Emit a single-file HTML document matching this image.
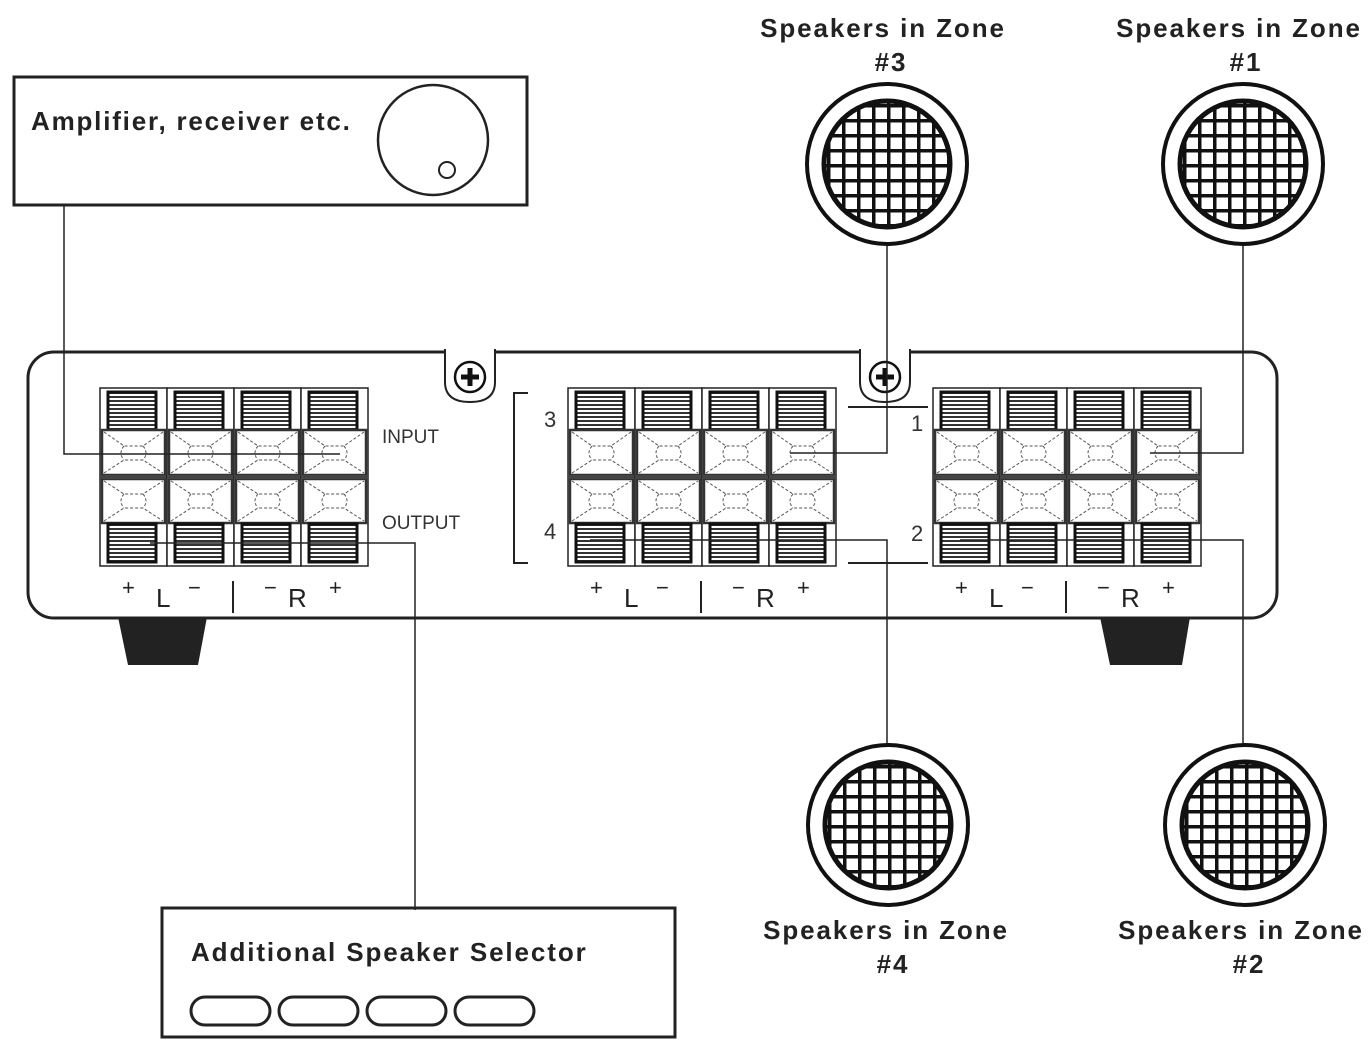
<!DOCTYPE html>
<html><head><style>body{margin:0;background:#fff}svg{display:block}text{font-family:"Liberation Sans",Arial,sans-serif}</style></head><body>
<svg width="1372" height="1056" viewBox="0 0 1372 1056" xmlns="http://www.w3.org/2000/svg">
<defs>
<pattern id="grid" width="15" height="15" patternUnits="userSpaceOnUse" x="0" y="0">
<rect width="15" height="15" fill="#fff"/><rect width="3.5" height="15" fill="#111"/><rect width="15" height="3.5" fill="#111"/></pattern>
<g id="spk">
<circle r="80" fill="#fff" stroke="#111" stroke-width="4"/>
<circle r="63" fill="url(#grid)" stroke="#111" stroke-width="5"/>
</g>
<pattern id="str" width="4" height="4" patternUnits="userSpaceOnUse"><rect width="4" height="4" fill="#fff"/><rect width="4" height="2" fill="#333"/></pattern>
<g id="col">
<rect x="0" y="0" width="67" height="178" fill="#fff" stroke="#222" stroke-width="1.5"/>
<rect x="8" y="4" width="48" height="38" fill="url(#str)" stroke="#111" stroke-width="3"/>
<rect x="2" y="42" width="63" height="45" fill="#fff" stroke="#333" stroke-width="2.5"/>
<g fill="none" stroke="#555" stroke-width="1" stroke-dasharray="3,2"><path d="M4 44 L24 58 L43 58 L63 44 M4 85 L24 72 L43 72 L63 85 M24 58 Q18 65 24 72 M43 58 Q49 65 43 72"/></g>
<rect x="2" y="91" width="63" height="44" fill="#fff" stroke="#333" stroke-width="2.5"/>
<g fill="none" stroke="#555" stroke-width="1" stroke-dasharray="3,2"><path d="M4 93 L24 106 L43 106 L63 93 M4 133 L24 120 L43 120 L63 133 M24 106 Q18 113 24 120 M43 106 Q49 113 43 120"/></g>
<rect x="8" y="136" width="48" height="38" fill="url(#str)" stroke="#111" stroke-width="3"/>
<line x1="0" y1="89" x2="67" y2="89" stroke="#444" stroke-width="4"/>
</g>
<g id="blk"><use href="#col" x="0"/><use href="#col" x="67"/><use href="#col" x="134"/><use href="#col" x="201"/></g>
<g id="lbl" font-size="26" fill="#222"><text x="22" y="0" font-size="22">+</text><text x="56" y="12">L</text><text x="88" y="0" font-size="22">−</text><line x1="133" y1="-14" x2="133" y2="18" stroke="#222" stroke-width="2"/><text x="164" y="0" font-size="22">−</text><text x="188" y="12">R</text><text x="229" y="0" font-size="22">+</text></g>
<g id="screw"><path d="M-25 -28 L-25 5 Q-25 25 0 25 Q25 25 25 5 L25 -28" fill="#fff" stroke="#222" stroke-width="2"/><circle r="15" fill="none" stroke="#111" stroke-width="2.5"/><path d="M-9 0 H9 M0 -9 V9" stroke="#111" stroke-width="5"/></g>
</defs>
<path d="M118 617 L207 617 L198 665 L128 665 Z" fill="#222"/>
<path d="M1100 617 L1190 617 L1182 665 L1110 665 Z" fill="#222"/>
<rect x="28" y="352" width="1249" height="266" rx="26" fill="#fff" stroke="#222" stroke-width="3"/>
<use href="#screw" x="470" y="377"/>
<use href="#screw" x="885" y="377"/>
<use href="#blk" x="100" y="388"/>
<use href="#blk" x="568" y="388"/>
<use href="#blk" x="933" y="388"/>
<use href="#lbl" x="100" y="595"/>
<use href="#lbl" x="568" y="595"/>
<use href="#lbl" x="933" y="595"/>
<text x="382" y="443" font-size="19" fill="#333">INPUT</text>
<text x="382" y="529" font-size="19" fill="#333">OUTPUT</text>
<g font-size="22" fill="#333"><text x="544" y="427">3</text><text x="544" y="539">4</text><text x="911" y="431">1</text><text x="911" y="541">2</text></g>
<path d="M528 393 H514 V563 H528" fill="none" stroke="#222" stroke-width="2"/>
<path d="M848 407 H928 M848 563 H928" stroke="#222" stroke-width="2"/>
<rect x="14" y="77" width="513" height="128" fill="#fff" stroke="#222" stroke-width="3"/>
<text x="31" y="130" font-size="26" font-weight="bold" fill="#222" letter-spacing="1.8">Amplifier, receiver etc.</text>
<circle cx="433" cy="140" r="55" fill="none" stroke="#222" stroke-width="2.5"/>
<circle cx="447" cy="170" r="8" fill="none" stroke="#222" stroke-width="2"/>
<rect x="162" y="908" width="513" height="129" fill="#fff" stroke="#222" stroke-width="3"/>
<text x="191" y="961" font-size="26" font-weight="bold" fill="#222" letter-spacing="1.9">Additional Speaker Selector</text>
<g fill="none" stroke="#222" stroke-width="3"><rect x="191" y="997" width="79" height="28" rx="14"/><rect x="279" y="997" width="79" height="28" rx="14"/><rect x="367" y="997" width="79" height="28" rx="14"/><rect x="455" y="997" width="79" height="28" rx="14"/></g>
<g fill="none" stroke="#222" stroke-width="1.5">
<path d="M64 205 V454 H340"/>
<path d="M150 543 H415 V910"/>
<path d="M887 246 V453 H790"/>
<path d="M1243 246 V453 H1150"/>
<path d="M887 744 V540 H590"/>
<path d="M1243 744 V540 H960"/>
</g>
<use href="#spk" x="887" y="164"/>
<use href="#spk" x="1243" y="164"/>
<use href="#spk" x="888" y="825"/>
<use href="#spk" x="1245" y="825"/>
<g font-size="26" font-weight="bold" fill="#222" text-anchor="middle" letter-spacing="1.9">
<text x="883" y="37">Speakers in Zone</text><text x="891" y="71">#3</text>
<text x="1239" y="37">Speakers in Zone</text><text x="1246" y="71">#1</text>
<text x="886" y="939">Speakers in Zone</text><text x="893" y="973">#4</text>
<text x="1241" y="939">Speakers in Zone</text><text x="1249" y="973">#2</text>
</g>
</svg>
</body></html>
